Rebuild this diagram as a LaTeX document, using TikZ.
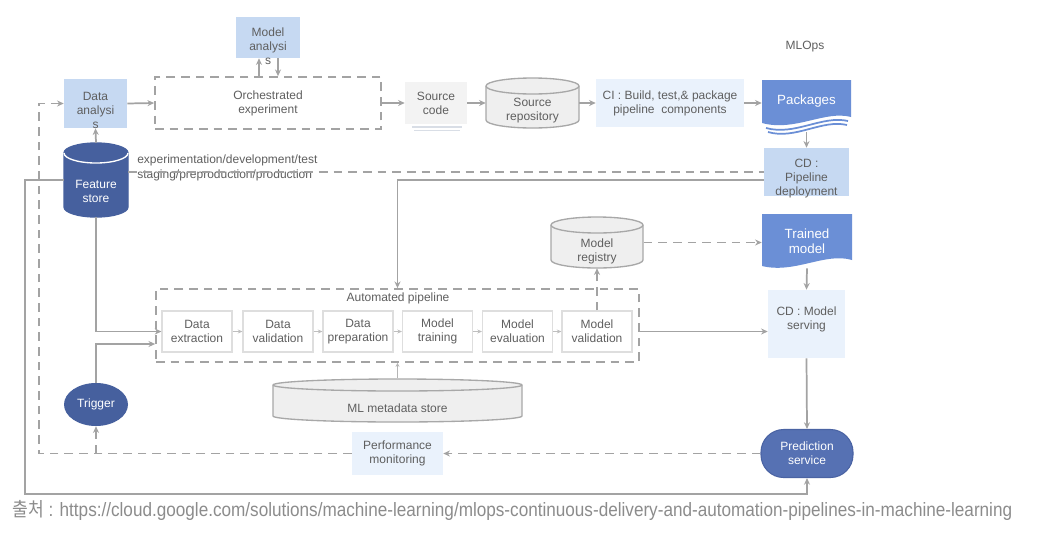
\documentclass[tikz,border=0pt]{standalone}
\usepackage{fontspec}
\setmainfont{Liberation Sans}
\newfontfamily\cjkfont{Noto Sans CJK KR}
\usetikzlibrary{arrows.meta,calc,shapes.geometric}
\definecolor{lnc}{HTML}{A3A3A3}
\definecolor{txc}{HTML}{5F5F5F}
\definecolor{lb}{HTML}{C6D9F2}
\definecolor{vlb}{HTML}{EAF2FC}
\definecolor{mb}{HTML}{6B8FD6}
\definecolor{db}{HTML}{46609E}
\definecolor{pb}{HTML}{5671B3}
\definecolor{pbd}{HTML}{4A63A3}
\definecolor{cylf}{HTML}{EFEFEF}
\definecolor{cyld}{HTML}{A8A8A8}
\definecolor{srcf}{HTML}{F3F3F3}
\definecolor{srcl}{HTML}{D9DEE6}
\definecolor{stepd}{HTML}{DEDEDE}
\definecolor{ftc}{HTML}{8C8C8C}
\newcommand\cyl[8]{%
 \pgfmathsetmacro\cylrx{(#3-#1)/2*0.75}%
 \pgfmathsetmacro\cylry{#5*0.75}%
 \pgfmathsetmacro\cylya{#2+#5}%
 \pgfmathsetmacro\cylyb{#4-#5}%
 \path[fill=#6,draw=#7,line width=1pt] (#1,\cylya) -- (#1,\cylyb)
   arc[start angle=180,end angle=360,x radius=\cylrx pt,y radius=\cylry pt]
   -- (#3,\cylya)
   arc[start angle=0,end angle=180,x radius=\cylrx pt,y radius=\cylry pt] -- cycle;
 \draw[#8,line width=1pt] (#1,\cylya)
   arc[start angle=180,end angle=360,x radius=\cylrx pt,y radius=\cylry pt];
}
\begin{document}
\begin{tikzpicture}[x=0.75pt,y=-0.75pt,
  sz/.style 2 args={minimum width=#1*0.75pt,minimum height=#2*0.75pt},
  txt/.style={font=\fontsize{9}{10.5}\selectfont,text=txc,align=center,inner sep=0pt},
  wtxt/.style={txt,text=white},
  wtxtb/.style={wtxt,font=\fontsize{10}{11.5}\selectfont},
  ln/.style={draw=lnc,line width=1.3pt},
  dln/.style={ln,dash pattern=on 6.5pt off 4.5pt},
  arr/.style={-{Stealth[length=5pt,width=4.5pt]}},
  sarr/.style={draw=lnc!70,line width=0.8pt,-{Stealth[length=3.5pt,width=3pt]}},
  marr/.style={draw=lnc!80,line width=0.6pt,-{Stealth[length=3pt,width=3pt]}},
  stepbox/.style={txt,sz={70}{41},draw=stepd,fill=white,line width=0.8pt}]
\fill[white] (0,0) rectangle (1037,543);
\useasboundingbox (0,0) rectangle (1037,543);

% ---- cylinders
\cyl{486}{78}{579}{128}{8}{cylf}{cyld}{draw=cyld}
\cyl{551}{217}{643}{268}{8}{cylf}{cyld}{draw=cyld}
\cyl{273}{379}{522}{422}{6}{cylf}{cyld}{draw=cyld}
\cyl{64}{143}{128}{217}{10}{db}{db}{draw=white}
% ---- document shapes
\fill[mb] (762,80) -- (851,80) -- (851,117) .. controls (825,110) and (795,132) .. (762,123) -- cycle;
\draw[mb,line width=1.3pt] (766,128) .. controls (795,136) and (822,115) .. (848,121);
\draw[mb,line width=1.3pt] (768,132) .. controls (795,140) and (822,119) .. (847,125);
\fill[mb] (762,214) -- (852,214) -- (852,260) .. controls (825,252) and (795,274) .. (762,266) -- cycle;
\draw[srcl,line width=0.8pt] (412,127) -- (462,127) (414,130.5) -- (460,130.5);

% ---- nodes
\node[txt,sz={64}{41},fill=lb] (manal) at (268,37.5) {};
\node[txt] (manal-t) at (268,46.5) {Model\\analysi\\s};
\node[txt,sz={63}{49},fill=lb] (danal) at (95.5,103.5) {};
\node[txt] (danal-t) at (95.5,110.5) {Data\\analysi\\s};
\node[txt,sz={226}{52},dln] (orch) at (268,103) {Orchestrated\\experiment};
\node[txt,sz={62}{42},fill=srcf] (src) at (436,103) {Source\\code};
\node[txt,sz={93}{50}] (repo) at (532.5,103) {};
\node[txt] (repo-t) at (532.5,111) {Source\\repository};
\node[txt,sz={148}{48},fill=vlb] (ci) at (670,103) {CI : Build, test,\& package\\pipeline\ \ components};
\node[wtxtb,sz={89}{44}] (pkg) at (806.5,101) {Packages};
\node[txt,sz={85}{48},fill=lb] (cdp) at (806.5,172) {};
\node[txt] (cdp-t) at (806.5,179) {CD :\\Pipeline\\deployment};
\node[txt] (mlops) at (805,47) {MLOps};
\node[txt,sz={64}{74}] (fs) at (96,180) {};
\node[wtxt] (fs-t) at (96,191.5) {Feature\\store};
\node[wtxt,ellipse,sz={64}{43},fill=db] (trig) at (96,404.5) {Trigger};
\node[txt,sz={483}{73},dln] (auto) at (397.5,325.5) {};
\node[txt] (auto-t) at (398,298) {Automated pipeline};
\node[stepbox] (dext) at (197,331.5) {Data\\extraction};
\node[stepbox] (dval) at (278,331.5) {Data\\validation};
\node[stepbox] (dprep) at (358,331.5) {Data\\preparation};
\node[stepbox] (mtrain) at (437.5,331.5) {Model\\training};
\node[stepbox] (meval) at (517.5,331.5) {Model\\evaluation};
\node[stepbox] (mval) at (597,331.5) {Model\\validation};
\node[txt,sz={93}{51}] (reg) at (597,242.5) {};
\node[txt] (reg-t) at (597,251) {Model\\registry};
\node[wtxtb,sz={90}{54}] (tm) at (807,241) {Trained\\model};
\node[txt,sz={77}{68},fill=vlb] (cds) at (806.5,324) {};
\node[txt] (cds-t) at (806.5,319.5) {CD : Model\\serving};
\node[wtxt,sz={92}{48},rounded corners=17pt,fill=pb,draw=pbd,line width=0.8pt] (pred) at (807,453.5) {Prediction\\service};
\node[txt,sz={91}{43},fill=vlb] (perf) at (397.5,453.5) {Performance\\monitoring};
\node[txt,sz={249}{44}] (meta) at (397.5,400.5) {};
\node[txt] (meta-t) at (397.5,408) {ML metadata store};
\node[txt,anchor=west] (env1) at (137,160) {experimentation/development/test};
\node[txt,anchor=west] (env2) at (137,175) {staging/preproduction/production};
\node[anchor=base west,inner sep=0pt,text=ftc] (note) at (12,516.5)
  {\resizebox{750pt}{\height}{\fontsize{14.5}{16}\selectfont{\cjkfont 출처} : https://cloud.google.com/solutions/machine-learning/mlops-continuous-delivery-and-automation-pipelines-in-machine-learning}};

% ---- helper coordinates
\coordinate (yb) at (0,494);
\coordinate (xl) at (25,0);
\coordinate (xd) at (39,0);
\coordinate (ytr) at (0,344);
\coordinate (ycd) at (0,180);
\coordinate (yenv) at (0,172);

% ---- connectors
\draw[ln,arr] ($(orch.north)+(-9,0)$) -- ($(manal.south)+(-9,0)$);
\draw[ln,arr] ($(manal.south)+(10,0)$) -- ($(orch.north)+(10,0)$);
\draw[ln,arr] (danal.east) -- (orch.west);
\draw[ln,arr] (orch.east) -- (src.west);
\draw[ln,arr] (src.east) -- (repo.west);
\draw[ln,arr] (repo.east) -- (ci.west);
\draw[ln,arr] (ci.east) -- (ci.east -| pkg.west);
\draw[ln,arr] ($(pkg.south)+(0,9)$) -- (cdp.north);
\draw[ln,arr] (cdp.west |- ycd) -| (auto.north);
\draw[dln] (fs.east |- yenv) -- (cdp.west |- yenv);
\draw[ln,arr] (fs.north) -- (danal.south);
\draw[ln,arr] (fs.south) |- (dext.west);
\draw[ln,arr] (trig.north) |- (auto.west |- ytr);
\draw[ln,arr] (fs.west) -- (fs.west -| xl) -- (xl |- yb) -| (pred.south);
\draw[dln,arr] (pred.west) -- (perf.east);
\draw[dln,arr] (perf.west) -- (perf.west -| xd) |- (danal.west);
\draw[dln,arr] (trig.south |- perf.west) -- (trig.south);
\draw[sarr] (dext.east) -- (dval.west);
\draw[sarr] (dval.east) -- (dprep.west);
\draw[sarr] (dprep.east) -- (mtrain.west);
\draw[sarr] (mtrain.east) -- (meval.west);
\draw[sarr] (meval.east) -- (mval.west);
\draw[dln,arr] (mval.north) -- (reg.south);
\draw[dln,arr] (reg.east) -- (reg.east -| tm.west);
\draw[ln,arr] (tm.south) -- (cds.north);
\draw[ln,arr] (mval.east -| auto.east) -- (mval.east -| cds.west);
\draw[ln,arr] (cds.south) -- (pred.north);
\draw[marr] (meta.north) -- (auto.south);
\end{tikzpicture}
\end{document}
